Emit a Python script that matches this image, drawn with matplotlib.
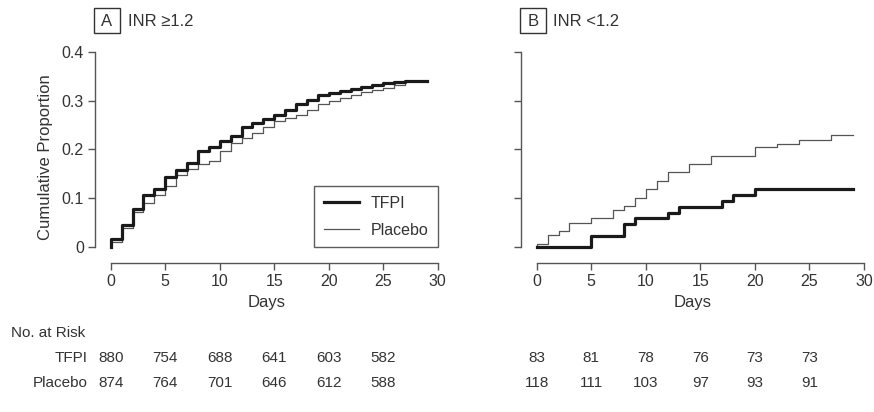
import matplotlib
matplotlib.use("Agg")
import matplotlib.pyplot as plt
from matplotlib.transforms import blended_transform_factory
from matplotlib.lines import Line2D
from matplotlib.patches import Rectangle

# ------------------------------------------------------------------
# Datos
# ------------------------------------------------------------------
dias_a = list(range(0, 30))
tfpi_a = [0.016, 0.045, 0.078, 0.107, 0.120, 0.143, 0.157, 0.172, 0.197, 0.206,
          0.218, 0.227, 0.245, 0.254, 0.263, 0.270, 0.281, 0.293, 0.301, 0.311,
          0.315, 0.320, 0.323, 0.327, 0.331, 0.335, 0.338, 0.340, 0.340, 0.340]
placebo_a = [0.010, 0.040, 0.072, 0.090, 0.107, 0.126, 0.147, 0.160, 0.170, 0.176,
             0.196, 0.213, 0.224, 0.234, 0.245, 0.259, 0.264, 0.270, 0.280, 0.294,
             0.300, 0.306, 0.312, 0.318, 0.322, 0.326, 0.332, 0.340, 0.340, 0.340]

dias_tfpi_b = [0, 5, 8, 9, 12, 13, 17, 18, 20, 29]
tfpi_b = [0.0, 0.023, 0.048, 0.059, 0.070, 0.083, 0.095, 0.106, 0.119, 0.119]
dias_placebo_b = [0, 1, 2, 3, 5, 7, 8, 9, 10, 11, 12, 14, 16, 20, 22, 24, 27, 29]
placebo_b = [0.0075, 0.025, 0.033, 0.050, 0.059, 0.076, 0.084, 0.100, 0.119, 0.135,
             0.153, 0.170, 0.187, 0.204, 0.212, 0.220, 0.230, 0.230]

dias_riesgo = [0, 5, 10, 15, 20, 25]
riesgo_tfpi_a = [880, 754, 688, 641, 603, 582]
riesgo_placebo_a = [874, 764, 701, 646, 612, 588]
riesgo_tfpi_b = [83, 81, 78, 76, 73, 73]
riesgo_placebo_b = [118, 111, 103, 97, 93, 91]

COLOR_TEXTO = "#333333"
COLOR_EJE = "#555555"
COLOR_TFPI = "#1a1a1a"
COLOR_PLACEBO = "#555555"

plt.rcParams["font.family"] = ["Liberation Sans", "DejaVu Sans"]

W, H = 874, 412
fig = plt.figure(figsize=(W / 100, H / 100), dpi=100)


def _ejes(x_spine, x0, x30):
    """Crea ejes al estilo R con los ejes desplazados."""
    izq = x_spine / W
    der = x30 / W
    inf = 1 - 263.3 / H
    sup = 1 - 51.7 / H
    ax = fig.add_axes([izq, inf, der - izq, sup - inf])
    ppd = (x30 - x0) / 30
    ax.set_xlim((x_spine - x0) / ppd, 30)
    ax.set_ylim(-0.033, 0.4)
    for s in ("top", "right"):
        ax.spines[s].set_visible(False)
    ax.spines["left"].set_bounds(0, 0.4)
    ax.spines["bottom"].set_bounds(0, 30)
    for s in ("left", "bottom"):
        ax.spines[s].set_color(COLOR_EJE)
        ax.spines[s].set_linewidth(1.0)
    ax.set_xticks(range(0, 31, 5))
    ax.set_yticks([0, 0.1, 0.2, 0.3, 0.4])
    ax.tick_params(direction="out", length=5, width=1.0, color=COLOR_EJE,
                   labelsize=11.5, labelcolor=COLOR_TEXTO, pad=3)
    ax.patch.set_visible(False)
    return ax


def _escalon(ax, dias, valores, **kw):
    # la curva arranca en 0 el día 0
    ax.step([dias[0]] + list(dias), [0.0] + list(valores), where="post",
            clip_on=False, **kw)


ax_a = _ejes(95, 110.7, 437.7)
ax_b = _ejes(520.7, 536.7, 864)

ax_a.set_yticklabels(["0", "0.1", "0.2", "0.3", "0.4"])
ax_b.set_yticklabels([])

_escalon(ax_a, dias_a, placebo_a, color=COLOR_PLACEBO, linewidth=0.9)
_escalon(ax_a, dias_a, tfpi_a, color=COLOR_TFPI, linewidth=2.3)
_escalon(ax_b, dias_placebo_b, placebo_b, color=COLOR_PLACEBO, linewidth=0.9)
_escalon(ax_b, dias_tfpi_b, tfpi_b, color=COLOR_TFPI, linewidth=2.3)

for ax in (ax_a, ax_b):
    ax.set_xlabel("Days", fontsize=12, color=COLOR_TEXTO, labelpad=4)
ax_a.set_ylabel("Cumulative Proportion", fontsize=12, color=COLOR_TEXTO, labelpad=6)

# Títulos de panel con letra en caja
for letra, texto, x_caja, x_texto in (("A", "INR \u22651.2", 94, 127.5),
                                      ("B", "INR <1.2", 520, 553)):
    fig.patches.append(Rectangle((x_caja / W, 1 - 33.3 / H), 26 / W, 25 / H,
                                 transform=fig.transFigure, fill=False,
                                 edgecolor="#333333", linewidth=1.0))
    fig.text((x_caja + 13) / W, 1 - 21.5 / H, letra, fontsize=12, color=COLOR_TEXTO,
             ha="center", va="center")
    fig.text(x_texto / W, 1 - 21.5 / H, texto, fontsize=12, color=COLOR_TEXTO,
             ha="left", va="center")

# Leyenda
leyenda = [Line2D([0], [0], color=COLOR_TFPI, linewidth=2.3),
           Line2D([0], [0], color=COLOR_PLACEBO, linewidth=0.9)]
leg = ax_a.legend(leyenda, ["TFPI", "Placebo"], loc="lower right",
                  bbox_to_anchor=(1.0, 0.076), borderaxespad=0, fontsize=11.5,
                  frameon=True, fancybox=False, edgecolor="#333333",
                  handlelength=2.2, borderpad=0.6, labelspacing=0.75,
                  handletextpad=0.7)
leg.get_frame().set_linewidth(1.0)
for t in leg.get_texts():
    t.set_color(COLOR_TEXTO)

# Tabla de pacientes en riesgo
fig.text(11 / W, 1 - 333 / H, "No. at Risk", fontsize=11, color=COLOR_TEXTO,
         ha="left", va="center")
fig.text(88 / W, 1 - 358 / H, "TFPI", fontsize=11, color=COLOR_TEXTO,
         ha="right", va="center")
fig.text(88 / W, 1 - 383 / H, "Placebo", fontsize=11, color=COLOR_TEXTO,
         ha="right", va="center")

for ax, fila_t, fila_p in ((ax_a, riesgo_tfpi_a, riesgo_placebo_a),
                           (ax_b, riesgo_tfpi_b, riesgo_placebo_b)):
    tr = blended_transform_factory(ax.transData, fig.transFigure)
    for d, vt, vp in zip(dias_riesgo, fila_t, fila_p):
        fig.text(d, 1 - 358 / H, str(vt), transform=tr, fontsize=11,
                 color=COLOR_TEXTO, ha="center", va="center")
        fig.text(d, 1 - 383 / H, str(vp), transform=tr, fontsize=11,
                 color=COLOR_TEXTO, ha="center", va="center")

fig.savefig("out.png", dpi=100)
